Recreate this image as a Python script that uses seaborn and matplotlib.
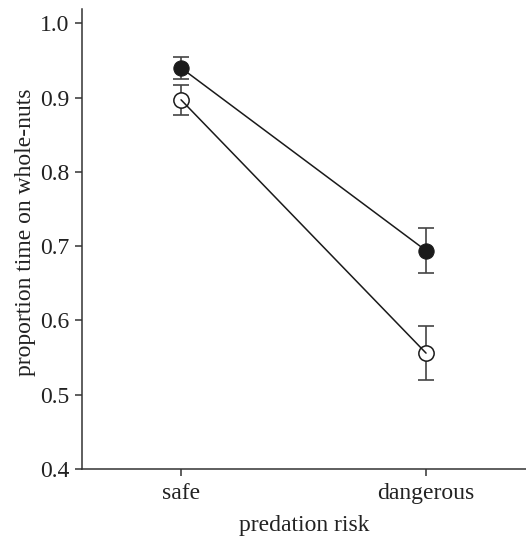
import matplotlib
matplotlib.use("Agg")
import matplotlib.pyplot as plt
import seaborn as sns
import pandas as pd

categories = ["safe", "dangerous"]
filled_mean = [0.940, 0.694]
filled_err = [0.015, 0.030]
open_mean = [0.897, 0.556]
open_err = [0.020, 0.036]
yticks = [0.4, 0.5, 0.6, 0.7, 0.8, 0.9, 1.0]

sns.set_style("ticks")
plt.rcParams["font.family"] = ["Liberation Serif", "DejaVu Serif"]

fig = plt.figure(figsize=(5.26, 5.40), dpi=100)
ax = fig.add_axes([0.156, 0.1315, 0.844, 0.8515])

x = list(range(len(categories)))
df_filled = pd.DataFrame({"xi": x, "value": filled_mean})
df_open = pd.DataFrame({"xi": x, "value": open_mean})

for mean, err in [(filled_mean, filled_err), (open_mean, open_err)]:
    ax.errorbar(x, mean, yerr=err, fmt="none", ecolor="#444444", elinewidth=1.2,
                capsize=6, capthick=1.2, zorder=2)

# markers
sns.lineplot(data=df_filled, x="xi", y="value", ax=ax, color="#1a1a1a", linewidth=0,
             marker="o", markersize=11, markerfacecolor="#1a1a1a",
             markeredgecolor="#1a1a1a", zorder=3)
sns.lineplot(data=df_open, x="xi", y="value", ax=ax, color="#1a1a1a", linewidth=0,
             marker="o", markersize=11, markerfacecolor="white",
             markeredgecolor="#1a1a1a", markeredgewidth=1.1, zorder=3)
# connecting lines on top
sns.lineplot(data=df_filled, x="xi", y="value", ax=ax, color="#1a1a1a", linewidth=1.1, zorder=4)
sns.lineplot(data=df_open, x="xi", y="value", ax=ax, color="#1a1a1a", linewidth=1.1, zorder=4)

ax.set_xlim(-0.404, 1.408)
ax.set_ylim(0.4, 1.019)
ax.set_xticks(x)
ax.set_xticklabels(categories)
ax.set_yticks(yticks)
ax.set_yticklabels([f"{t:.1f}" for t in yticks])
ax.tick_params(axis="both", labelsize=17, length=5, width=1.1, color="#333333",
               labelcolor="#222222", direction="out")
ax.tick_params(axis="x", pad=5)
ax.tick_params(axis="y", pad=4)
ax.set_xlabel("predation risk", fontsize=17, color="#222222", labelpad=8)
ax.set_ylabel("proportion time on whole-nuts", fontsize=17, color="#222222", labelpad=3)
ax.yaxis.label.set_y(0.515)
for s in ["top", "right"]:
    ax.spines[s].set_visible(False)
for s in ["left", "bottom"]:
    ax.spines[s].set_linewidth(1.1)
    ax.spines[s].set_color("#333333")

fig.savefig("out.png", dpi=100)
